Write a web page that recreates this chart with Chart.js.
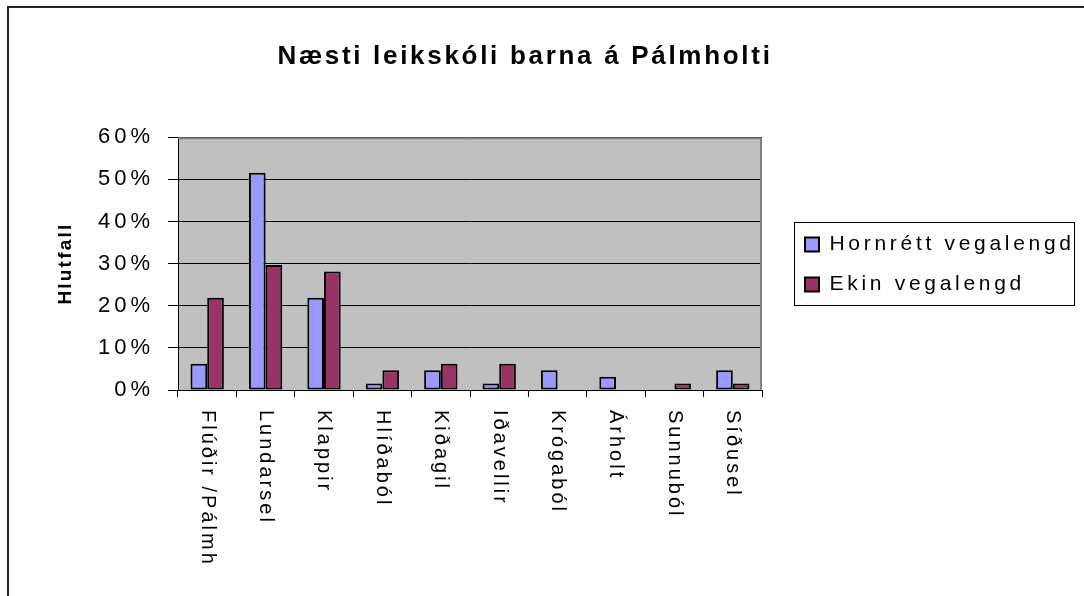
<!DOCTYPE html>
<html><head><meta charset="utf-8">
<script src="https://cdn.jsdelivr.net/npm/chart.js@4"></script>
<style>html,body{margin:0;padding:0;background:#fff;}canvas{display:block;}</style>
</head><body>
<canvas id="c" width="1084" height="596"></canvas>
<script>
const categories = ["Flúðir /Pálmh","Lundarsel","Klappir","Hlíðaból","Kiðagil","Iðavellir","Krógaból","Árholt","Sunnuból","Síðusel"];
const seriesNames = ["Hornrétt vegalengd","Ekin vegalengd"];
const hornrett = [6.25,51.56,21.88,1.56,4.69,1.56,4.69,3.13,0,4.69];
const ekin = [21.88,29.69,28.13,4.69,6.25,6.25,0,0,1.56,1.56];
const yTicks = [0,10,20,30,40,50,60];
const chartTitle = "Næsti leikskóli barna á Pálmholti";
const yAxisTitle = "Hlutfall";

const FONT = "'Liberation Sans', Arial, sans-serif";
Chart.defaults.font.family = FONT;
Chart.defaults.color = '#000';

function withSpacing(obj, name, sp){
  if (obj['_p_' + name]) return;
  const orig = obj[name];
  obj['_p_' + name] = true;
  obj[name] = function(...args){
    const c = this.ctx;
    const prev = c.letterSpacing;
    c.letterSpacing = sp;
    const r = orig.apply(this, args);
    c.letterSpacing = prev;
    return r;
  };
}

const excelLook = {
  id: 'excelLook',
  beforeUpdate(chart){ chart.ctx.letterSpacing = '3px'; },
  afterLayout(chart){
    const lg = chart.legend;
    lg.left = 786; lg.right = 1084; lg.top = 209; lg.bottom = 320;
    lg.width = lg.right - lg.left; lg.height = lg.bottom - lg.top;
    const t = chart.titleBlock;
    t.left = 0; t.right = 1050; t.width = 1050;
    withSpacing(t, 'draw', '2.7px');
    withSpacing(lg, 'draw', '3.7px');
    withSpacing(chart.scales.y, 'drawLabels', '4px');
    withSpacing(chart.scales.y, 'drawTitle', '2.2px');
  },
  beforeDraw(chart){
    const {ctx, chartArea:a} = chart;
    ctx.save();
    ctx.fillStyle = '#222';
    ctx.fillRect(7, 6, 1077, 2);
    ctx.fillRect(7, 6, 2, 590);
    ctx.fillStyle = '#C0C0C0';
    ctx.fillRect(a.left, a.top, a.right - a.left, a.bottom - a.top);
    ctx.restore();
  },
  afterDatasetsDraw(chart){
    const {ctx, chartArea:a} = chart;
    ctx.save();
    ctx.strokeStyle = '#808080';
    ctx.lineWidth = 2;
    ctx.beginPath();
    ctx.moveTo(a.left, a.top + 1);
    ctx.lineTo(a.right - 1, a.top + 1);
    ctx.lineTo(a.right - 1, a.bottom);
    ctx.stroke();
    ctx.restore();
  },
  afterDraw(chart){
    const {ctx} = chart;
    ctx.save();
    ctx.strokeStyle = '#000';
    ctx.lineWidth = 1;
    ctx.strokeRect(794.5, 222.5, 280, 83);
    const xs = chart.scales.x;
    ctx.font = '20px ' + FONT;
    ctx.fillStyle = '#000';
    ctx.letterSpacing = '3px';
    ctx.textAlign = 'left';
    ctx.textBaseline = 'middle';
    chart.data.labels.forEach((lab, i) => {
      const x = xs.getPixelForValue(i);
      ctx.save();
      ctx.translate(x, 410);
      ctx.rotate(Math.PI / 2);
      ctx.fillText(lab, 0, 0);
      ctx.restore();
    });
    ctx.restore();
  }
};

new Chart(document.getElementById('c'), {
  type: 'bar',
  data: {
    labels: categories,
    datasets: [
      { label: seriesNames[0], data: hornrett, backgroundColor: '#9999FF', borderColor: '#000', borderWidth: 2, borderSkipped: false },
      { label: seriesNames[1], data: ekin, backgroundColor: '#993366', borderColor: '#000', borderWidth: 2, borderSkipped: false }
    ]
  },
  options: {
    responsive: false,
    animation: false,
    layout: { padding: { left: 0, right: 322, top: 0, bottom: 199 } },
    datasets: { bar: { categoryPercentage: 0.571, barPercentage: 1.0 } },
    plugins: {
      title: { display: true, text: chartTitle, color: '#000', font: { size: 26, weight: 'bold' }, padding: { top: 41, bottom: 65 } },
      legend: { position: 'chartArea', align: 'center',
        labels: { boxWidth: 14, boxHeight: 14, padding: 19, color: '#000', font: { size: 21 } } },
      tooltip: { enabled: false }
    },
    scales: {
      x: {
        offset: true,
        grid: { display: true, offset: true, drawOnChartArea: false, drawTicks: true, tickLength: 7, color: '#000' },
        border: { display: true, color: '#000', width: 1 },
        ticks: { display: false }
      },
      y: {
        min: 0, max: 60,
        afterBuildTicks: s => { s.ticks = yTicks.map(v => ({ value: v })); },
        afterFit: s => { s.width = 178; },
        grid: { color: '#000', lineWidth: 1, drawTicks: true, tickLength: 10 },
        border: { display: true, color: '#000', width: 1 },
        ticks: { font: { size: 22 }, padding: 14, color: '#000', callback: v => v + '%' },
        title: { display: true, text: yAxisTitle, color: '#000', font: { size: 19, weight: 'bold' }, padding: { top: 54, bottom: 0 } }
      }
    }
  },
  plugins: [excelLook]
});
</script>
</body></html>
